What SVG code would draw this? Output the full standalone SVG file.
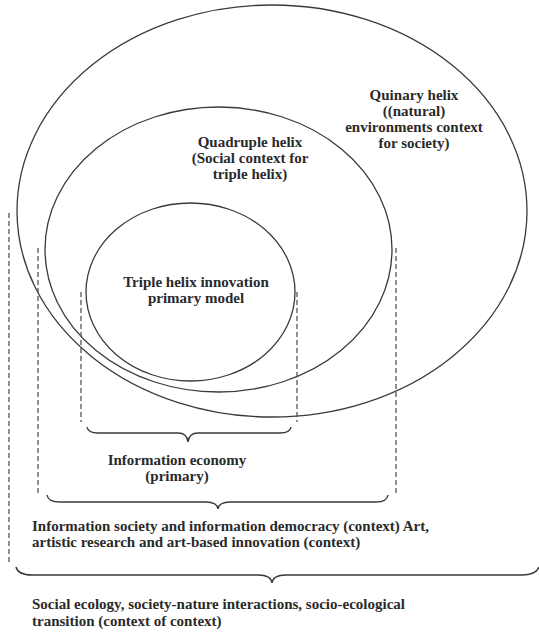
<svg xmlns="http://www.w3.org/2000/svg" width="539" height="634" viewBox="0 0 539 634">
<style>
.ell{fill:none;stroke:#3a3a3a;stroke-width:1.3}
.dash{fill:none;stroke:#555;stroke-width:1.3;stroke-dasharray:5,3}
.brace{fill:none;stroke:#3a3a3a;stroke-width:1.4}
text{font-family:"Liberation Serif","Times New Roman",serif;font-weight:bold;font-size:15px;fill:#2a2a2a}
.c{text-anchor:middle}
</style>
<rect width="539" height="634" fill="#fff"/>
<g id="quinary">
<ellipse class="ell" cx="272" cy="211" rx="255" ry="206"/>
<text class="c" x="414" y="100">Quinary helix</text>
<text class="c" x="414" y="116">((natural)</text>
<text class="c" x="414" y="132">environments context</text>
<text class="c" x="414" y="148">for society)</text>
</g>
<g id="quadruple">
<ellipse class="ell" cx="218.5" cy="249.5" rx="173.5" ry="142.5"/>
<text class="c" x="250" y="147">Quadruple helix</text>
<text class="c" x="250" y="163">(Social context for</text>
<text class="c" x="250" y="179">triple helix)</text>
</g>
<g id="triple">
<ellipse class="ell" cx="190.5" cy="292" rx="104.5" ry="89"/>
<text class="c" x="196" y="287">Triple helix innovation</text>
<text class="c" x="196" y="303">primary model</text>
</g>
<g id="connectors">
<line class="dash" x1="9" y1="213" x2="9" y2="563"/>
<line class="dash" x1="38" y1="248" x2="38" y2="493"/>
<line class="dash" x1="81" y1="292" x2="81" y2="422"/>
<line class="dash" x1="297" y1="292" x2="297" y2="422"/>
<line class="dash" x1="396" y1="248" x2="396" y2="493"/>
<path class="brace" d="M87,427 Q88,433 98,433 L178,433 Q187,433 188,442 Q189,433 198,433 L280,433 Q290,433 291,427"/>
<path class="brace" d="M47,495 Q48,502 60,502 L206,502 Q217,502 218,509 Q219,502 230,502 L376,502 Q387,502 388,495"/>
<path class="brace" d="M16,567 Q18,575 32,575 L258,575 Q271,575 272,583 Q273,575 286,575 L522,575 Q536,575 539,567"/>
</g>
<g id="information-economy">
<text class="c" x="177" y="465">Information economy</text>
<text class="c" x="177" y="481">(primary)</text>
</g>
<g id="information-society">
<text x="32" y="531">Information society and information democracy (context) Art,</text>
<text x="32" y="547">artistic research and art-based innovation (context)</text>
</g>
<g id="social-ecology">
<text x="32" y="609">Social ecology, society-nature interactions, socio-ecological</text>
<text x="32" y="626">transition (context of context)</text>
</g>
</svg>
